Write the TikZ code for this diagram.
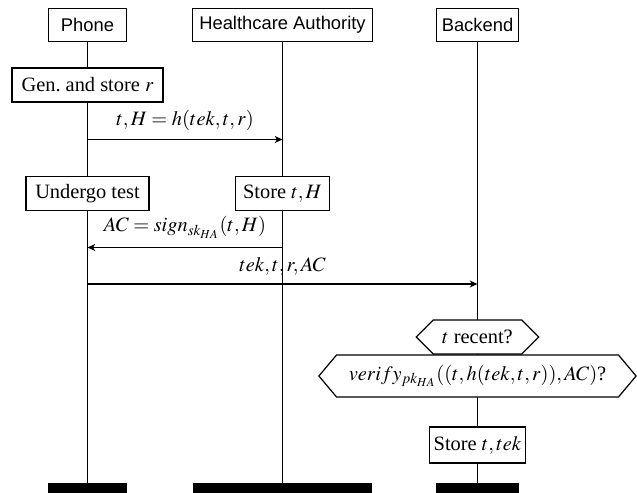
\documentclass[tikz,border=0pt]{standalone}
\usepackage{mathptmx}
\usepackage{fontspec}
\setmainfont{Liberation Serif}
\setsansfont{Liberation Sans}
\usetikzlibrary{shapes.symbols,arrows.meta}
\newcommand\pxu{0.49pt}
\tikzset{
  inst/.style={draw, line width=0.6pt, fill=white, font=\fontsize{9}{11}\selectfont\sffamily, minimum height=33.4*\pxu, inner sep=2pt},
  foot/.style={fill=black, inner sep=0pt, minimum height=10*\pxu},
  life/.style={line width=0.8pt},
  act/.style={draw, line width=0.6pt, fill=white, minimum height=34*\pxu, inner sep=2pt},
  cond/.style={draw, line width=0.6pt, fill=white, shape=signal, signal to=west and east, inner ysep=0pt},
  msg/.style={line width=0.55pt, -{Stealth[length=3.8pt,width=3.4pt,inset=1.1pt]}},
  lbl/.style={anchor=base, inner sep=0pt},
}
\begin{document}
\begin{tikzpicture}[x=0.49pt,y=-0.49pt]
\useasboundingbox (0,0) rectangle (637,493);
% instance heads and feet
\node[inst, minimum width=78.5*\pxu] (phone) at (87.5,25) {Phone};
\node[inst, minimum width=180*\pxu] (ha) at (282.5,25) {Healthcare Authority};
\node[inst, minimum width=82*\pxu] (be) at (477.5,25) {Backend};
\node[foot, minimum width=79*\pxu] (phonef) at (87.5,488) {};
\node[foot, minimum width=179*\pxu] (haf) at (282.5,488) {};
\node[foot, minimum width=83*\pxu] (bef) at (477.5,488) {};
\draw[life] (phone) -- (phonef);
\draw[life] (ha) -- (haf);
\draw[life] (be) -- (bef);
% actions
\node[act, minimum width=151*\pxu] (gen) at (87.5,85) {Gen.\ and store $r$};
\node[act, minimum width=123*\pxu] (test) at (87.5,193.4) {Undergo test};
\node[act, minimum width=93.3*\pxu] (sth) at (282.5,193.4) {Store $t,H$};
% messages
\coordinate (m1a) at (87.5,139.5);
\coordinate (m1b) at (282.5,139.5);
\draw[msg] (m1a) -- (m1b) node[lbl, midway, yshift=7pt] {$t,H = h(tek,t,r)$};
\coordinate (m2a) at (282.5,247.5);
\coordinate (m2b) at (87.5,247.5);
\draw[msg] (m2a) -- (m2b) node[lbl, midway, yshift=7.6pt] {$AC = sign_{sk_{HA}}(t,H)$};
\coordinate (m3a) at (87.5,284);
\coordinate (m3b) at (477.5,284);
\draw[msg] (m3a) -- (m3b) node[lbl, midway, yshift=5.9pt] {$tek,t,r,AC$};
% conditions
\node[cond, minimum height=34*\pxu, inner xsep=4.4pt] (rec) at (477.5,337) {$t$ recent?};
\node[cond, signal pointer angle=100, minimum height=42*\pxu, inner xsep=6pt] (ver) at (477.5,376) {$verify_{pk_{HA}}((t,h(tek,t,r)),AC)$?};
\node[act, minimum width=96*\pxu, minimum height=36*\pxu] (sttek) at (477.5,445) {Store $t,tek$};
\end{tikzpicture}
\end{document}
